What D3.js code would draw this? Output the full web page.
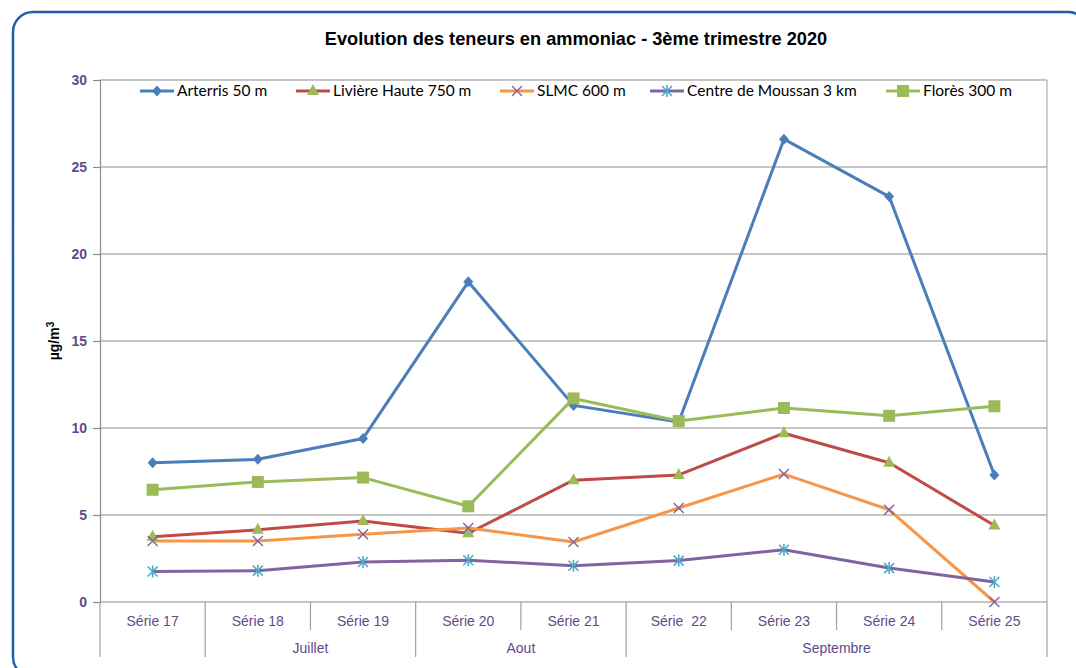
<!DOCTYPE html>
<html><head><meta charset="utf-8">
<script src="https://cdn.jsdelivr.net/npm/d3@7"></script>
<style>
body{margin:0;background:#fff;}
svg{display:block;}
</style></head>
<body>
<svg id="chart" width="1076" height="668"></svg>
<script>
const categories = ["Série 17","Série 18","Série 19","Série 20","Série 21","Série  22","Série 23","Série 24","Série 25"];
const months = [
  {name:"", from:0, to:0},
  {name:"Juillet", from:1, to:2},
  {name:"Aout", from:3, to:4},
  {name:"Septembre", from:5, to:8}
];
const yTicks = [0,5,10,15,20,25,30];
const title = "Evolution des teneurs en ammoniac - 3ème trimestre 2020";
const yLabelBase = "µg/m";
const yLabelSup = "3";

const arterris = [8.0, 8.2, 9.4, 18.4, 11.3, 10.35, 26.6, 23.3, 7.3];
const liviere  = [3.75, 4.15, 4.65, 3.95, 7.0, 7.3, 9.7, 8.0, 4.4];
const slmc     = [3.5, 3.5, 3.9, 4.25, 3.45, 5.4, 7.35, 5.3, 0.0];
const moussan  = [1.75, 1.8, 2.3, 2.4, 2.08, 2.38, 3.0, 1.95, 1.15];
const flores   = [6.45, 6.9, 7.15, 5.5, 11.7, 10.4, 11.15, 10.7, 11.25];

const series = [
  {name:"Arterris 50 m", values:arterris, color:"#4a7ebb", marker:"diamond", mcolor:"#4a7ebb"},
  {name:"Livière Haute 750 m", values:liviere, color:"#be4b48", marker:"triangle", mcolor:"#9bbb59"},
  {name:"SLMC 600 m", values:slmc, color:"#f79646", marker:"x", mcolor:"#8064a2"},
  {name:"Centre de Moussan 3 km", values:moussan, color:"#8064a2", marker:"star", mcolor:"#4bacc6"},
  {name:"Florès 300 m", values:flores, color:"#9bbb59", marker:"square", mcolor:"#9bbb59"}
];

const svg = d3.select("#chart");
const L = 100, R = 1047, T = 80, B = 602;
const purple = "#5f4a8b";
const arial = "Liberation Sans, Arial, sans-serif";

// border
svg.append("rect").attr("x",13).attr("y",12).attr("width",1075).attr("height",665)
  .attr("rx",20).attr("fill","none").attr("stroke","#1f5ea8").attr("stroke-width",2.5);

svg.append("text").attr("x",576).attr("y",45).attr("text-anchor","middle")
  .attr("font-family",arial).attr("font-weight","bold")
  .attr("font-size",18.2).attr("fill","#000").text(title);

const x = d3.scaleBand().domain(categories).range([L,R]).padding(0);
const y = d3.scaleLinear().domain([0,30]).range([B,T]);
const cx = c => x(c) + x.bandwidth()/2;

// gridlines
svg.append("g").selectAll("line").data(yTicks.filter(t=>t>0)).join("line")
  .attr("x1",L).attr("x2",R).attr("y1",d=>y(d)).attr("y2",d=>y(d))
  .attr("stroke","#8c8c8c").attr("stroke-width",1.2);
// right border
svg.append("line").attr("x1",R).attr("x2",R).attr("y1",T).attr("y2",B).attr("stroke","#b0b0b0").attr("stroke-width",1.2);

// y axis
const yAxis = d3.axisLeft(y).tickValues(yTicks).tickSize(7).tickPadding(6);
const gy = svg.append("g").attr("transform",`translate(${L},0)`).call(yAxis);
gy.select(".domain").attr("stroke","#8c8c8c").attr("stroke-width",1.2);
gy.selectAll(".tick line").attr("stroke","#8c8c8c").attr("stroke-width",1.2);
gy.selectAll("text").attr("font-family",arial).attr("font-weight","bold")
  .attr("font-size",14).attr("fill",purple);

// x axis baseline
svg.append("line").attr("x1",L).attr("x2",R).attr("y1",B).attr("y2",B).attr("stroke","#8c8c8c").attr("stroke-width",1.2);

// x category separators
const bounds = d3.range(categories.length+1);
const monthBounds = new Set([0, ...months.map(m=>m.to+1)]);
svg.append("g").selectAll("line").data(bounds).join("line")
  .attr("x1",i=>L+i*x.bandwidth()).attr("x2",i=>L+i*x.bandwidth())
  .attr("y1",B).attr("y2",i=>monthBounds.has(i)?657:630)
  .attr("stroke","#a0a0a0").attr("stroke-width",1.2);

svg.append("g").selectAll("text").data(categories).join("text")
  .attr("x",d=>cx(d)).attr("y",626).attr("text-anchor","middle")
  .style("white-space","pre")
  .attr("font-family",arial).attr("font-size",14).attr("fill",purple)
  .text(d=>d);

svg.append("g").selectAll("text").data(months).join("text")
  .attr("x",d=>(x(categories[d.from]) + x(categories[d.to]) + x.bandwidth())/2).attr("y",653)
  .attr("text-anchor","middle")
  .attr("font-family",arial).attr("font-size",14).attr("fill",purple)
  .text(d=>d.name);

// y label
const yl = svg.append("text").attr("transform","translate(59,341) rotate(-90)").attr("text-anchor","middle")
  .attr("font-family",arial).attr("font-weight","bold").attr("font-size",14)
  .attr("fill","#000");
yl.append("tspan").text(yLabelBase);
yl.append("tspan").attr("font-size",10).attr("dy",-5).text(yLabelSup);

function drawMarker(g, type, color, px, py) {
  if (type==="diamond") {
    g.append("path").attr("d",`M${px},${py-5.5}L${px+5},${py}L${px},${py+5.5}L${px-5},${py}Z`).attr("fill",color);
  } else if (type==="triangle") {
    g.append("path").attr("d",`M${px},${py-7}L${px+6},${py+4}L${px-6},${py+4}Z`).attr("fill",color);
  } else if (type==="square") {
    g.append("rect").attr("x",px-6).attr("y",py-6).attr("width",12).attr("height",12).attr("fill",color);
  } else if (type==="x") {
    g.append("path").attr("d",`M${px-5},${py-5}L${px+5},${py+5}M${px+5},${py-5}L${px-5},${py+5}`).attr("stroke",color).attr("stroke-width",1.4);
  } else if (type==="star") {
    g.append("path").attr("d",`M${px-5},${py-5}L${px+5},${py+5}M${px+5},${py-5}L${px-5},${py+5}M${px},${py-6}L${px},${py+6}`).attr("stroke",color).attr("stroke-width",1.6);
  }
}

const line = d3.line().x((d,i)=>cx(categories[i])).y(d=>y(d));
series.forEach(s=>{
  svg.append("path").datum(s.values).attr("d",line).attr("fill","none")
    .attr("stroke",s.color).attr("stroke-width",3).attr("stroke-linejoin","round");
});
series.forEach(s=>{
  const g = svg.append("g");
  s.values.forEach((v,i)=>drawMarker(g, s.marker, s.mcolor, cx(categories[i]), y(v)));
});

// legend
const legendX = [140, 296, 500, 650, 886];
series.forEach((s,i)=>{
  const g = svg.append("g");
  const lx = legendX[i], ly = 91;
  g.append("line").attr("x1",lx).attr("x2",lx+34).attr("y1",ly).attr("y2",ly).attr("stroke",s.color).attr("stroke-width",3);
  drawMarker(g, s.marker, s.mcolor, lx+17, ly);
  g.append("text").attr("x",lx+37).attr("y",ly+5).attr("font-family","Lato, sans-serif").attr("font-size",15.5)
    .attr("fill","#000").text(s.name);
});
</script>
</body></html>
